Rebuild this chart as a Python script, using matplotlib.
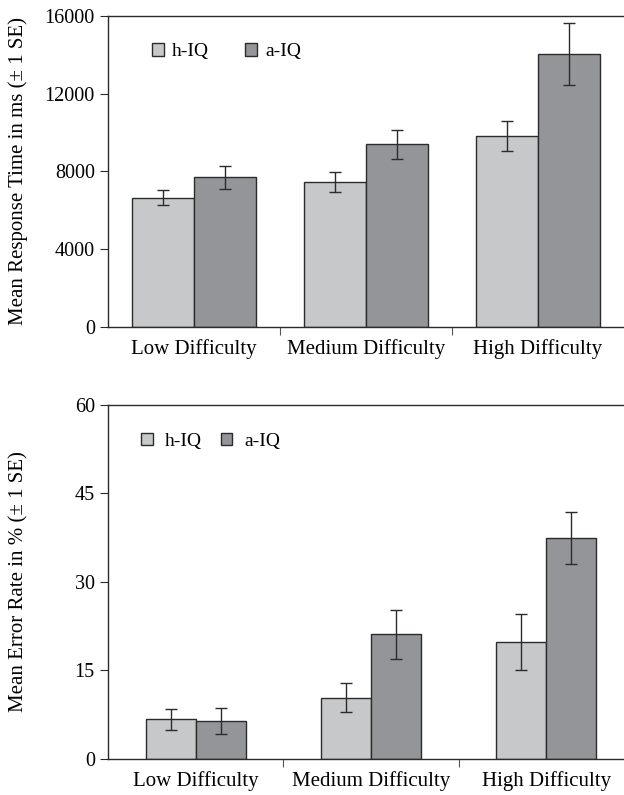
import matplotlib
matplotlib.use("Agg")
import matplotlib.pyplot as plt
import numpy as np

plt.rcParams["font.family"] = ["Liberation Serif", "DejaVu Serif"]

categories = ["Low Difficulty", "Medium Difficulty", "High Difficulty"]
groups = ["h-IQ", "a-IQ"]

rt_h = [6650, 7450, 9820]
rt_h_se = [400, 520, 780]
rt_a = [7700, 9400, 14030]
rt_a_se = [580, 740, 1600]

err_h = [6.7, 10.4, 19.8]
err_h_se = [1.8, 2.4, 4.7]
err_a = [6.4, 21.1, 37.4]
err_a_se = [2.2, 4.2, 4.4]

light = "#c7c8ca"
dark = "#949598"
edge = "#2b2b2b"


def draw_panel(ax, h, h_se, a, a_se, width, ylim, yticks, ylabel, label_x,
               legend_anchor, colspace, textpad):
    x = np.arange(len(categories))
    ax.bar(x - width / 2, h, width, color=light, edgecolor=edge, linewidth=1.0, label=groups[0], zorder=2)
    ax.bar(x + width / 2, a, width, color=dark, edgecolor=edge, linewidth=1.0, label=groups[1], zorder=2)
    ax.errorbar(x - width / 2, h, yerr=h_se, fmt="none", ecolor=edge, elinewidth=1.0, capsize=4, capthick=1.0, zorder=3)
    ax.errorbar(x + width / 2, a, yerr=a_se, fmt="none", ecolor=edge, elinewidth=1.0, capsize=4, capthick=1.0, zorder=3)

    ax.set_xlim(-0.5, 2.5)
    ax.set_ylim(*ylim)
    ax.set_yticks(yticks)
    ax.set_xticks([0.5, 1.5])
    ax.set_xticklabels([])
    ax.set_xticks(x, minor=True)
    ax.set_xticklabels(categories, minor=True, fontsize=15)
    ax.tick_params(axis="x", which="minor", length=0, pad=9)
    ax.tick_params(axis="x", which="major", length=6, direction="out", color="#555555")
    ax.tick_params(axis="y", length=5.5, direction="out", labelsize=14.5, pad=4, color=edge)
    ax.spines["right"].set_visible(False)
    for s in ["left", "top", "bottom"]:
        ax.spines[s].set_color(edge)
        ax.spines[s].set_linewidth(1.0)
    ax.set_ylabel(ylabel, fontsize=15)
    ax.yaxis.set_label_coords(label_x, 0.5)
    ax.legend(loc="center left", bbox_to_anchor=legend_anchor, ncol=2, frameon=False,
              fontsize=14, handlelength=0.6, handleheight=0.6, handletextpad=textpad,
              columnspacing=colspace, borderaxespad=0)


fig = plt.figure(figsize=(6.24, 7.95), dpi=100)

ax1 = fig.add_axes([0.173, 0.5887, 0.827, 0.3912])
draw_panel(ax1, rt_h, rt_h_se, rt_a, rt_a_se, 0.36, (0, 16000),
           [0, 4000, 8000, 12000, 16000],
           "Mean Response Time in ms (\u00b1 1 SE)", -0.155,
           (0.070, 0.885), 1.85, 0.45)

ax2 = fig.add_axes([0.1731, 0.0453, 0.843, 0.4457])
draw_panel(ax2, err_h, err_h_se, err_a, err_a_se, 0.285, (0, 60),
           [0, 15, 30, 45, 60],
           "Mean Error Rate in % (\u00b1 1 SE)", -0.152,
           (0.048, 0.897), 1.0, 0.6)

fig.savefig("out.png", dpi=100)
